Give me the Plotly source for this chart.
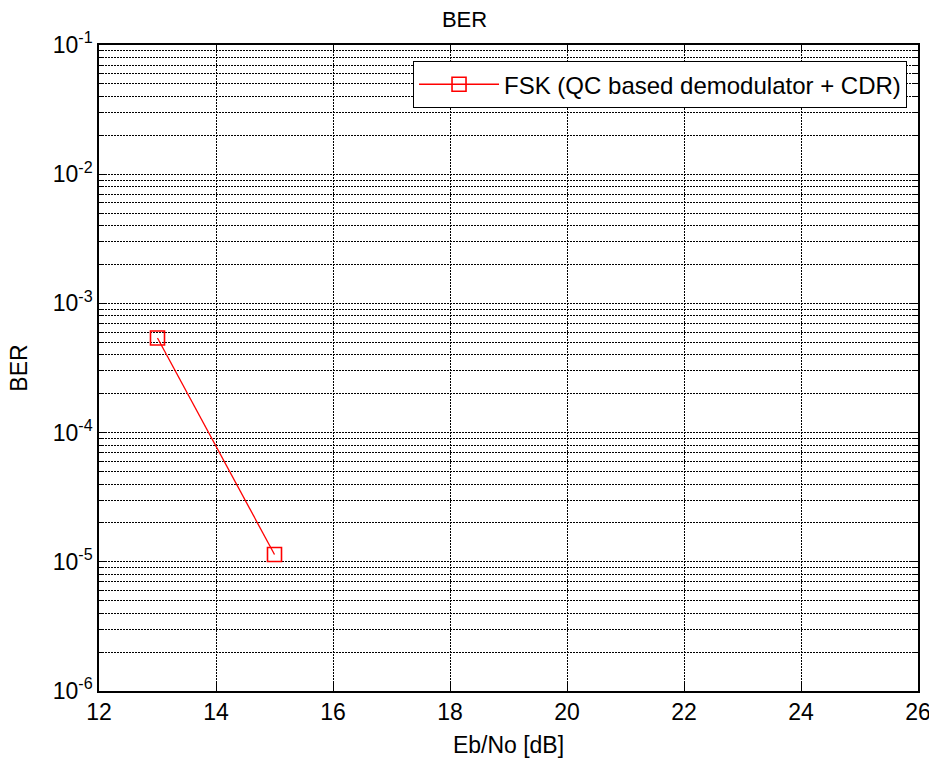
import plotly.graph_objects as go

ebno = [13, 15]
ber = [5.4e-4, 1.14e-5]
series_name = "FSK (QC based demodulator + CDR)"

x_ticks = [12, 14, 16, 18, 20, 22, 24, 26]
y_exps = [-6, -5, -4, -3, -2, -1]
y_tickvals = [10.0 ** e for e in y_exps]
y_ticktext = ["10<sup>%d</sup>" % e for e in y_exps]
y_minor = [m * 10.0 ** e for e in y_exps[:-1] for m in range(2, 10)]

FONT = "Liberation Sans, Arial, sans-serif"
DASH = "2px,1px"

fig = go.Figure()
fig.add_trace(go.Scatter(
    x=ebno, y=ber, mode="lines+markers", name=series_name,
    line=dict(color="#ff0000", width=1.3),
    marker=dict(symbol="square-open", size=14, color="#ff0000",
                line=dict(width=1.6, color="#ff0000")),
))

fig.update_layout(
    width=929, height=761,
    paper_bgcolor="white", plot_bgcolor="white",
    margin=dict(l=99, r=11, t=45, b=70, autoexpand=False),
    font=dict(family=FONT, size=23, color="black"),
    title=dict(text="BER", x=0.5, xanchor="center", y=0.974, yanchor="middle",
               font=dict(family=FONT, size=22, color="black")),
    showlegend=True,
    legend=dict(x=0.9866, xanchor="right", y=0.975, yanchor="top",
                bordercolor="black", borderwidth=1, bgcolor="white",
                font=dict(family=FONT, size=24, color="black"),
                itemwidth=80),
)
fig.update_xaxes(
    range=[12, 26], tickvals=x_ticks, ticks="inside", ticklen=8, tickcolor="black",
    showline=True, linecolor="black", linewidth=1.5, mirror="ticks",
    showgrid=True, gridcolor="black", griddash=DASH, gridwidth=1,
    zeroline=False, automargin=False, ticklabeloverflow="allow",
    title=dict(text="Eb/No [dB]", standoff=13,
               font=dict(family=FONT, size=23, color="black")),
    tickfont=dict(family=FONT, size=23, color="black"),
)
fig.update_yaxes(
    type="log", range=[-6, -1], tickvals=y_tickvals, ticktext=y_ticktext,
    ticks="inside", ticklen=8, tickcolor="black",
    showline=True, linecolor="black", linewidth=1.5, mirror="ticks",
    showgrid=True, gridcolor="black", griddash=DASH, gridwidth=1,
    minor=dict(tickvals=y_minor, ticks="inside", ticklen=4, tickcolor="black",
               showgrid=True, gridcolor="black", griddash=DASH, gridwidth=1),
    zeroline=False, automargin=False, ticklabeloverflow="allow",
    title=dict(text="BER", standoff=19,
               font=dict(family=FONT, size=23, color="black")),
    tickfont=dict(family=FONT, size=23, color="black"),
)

fig.write_html(
    "out.html",
    config={"displayModeBar": False},
    post_script="document.body.style.margin='0';document.body.style.overflow='hidden';",
)
